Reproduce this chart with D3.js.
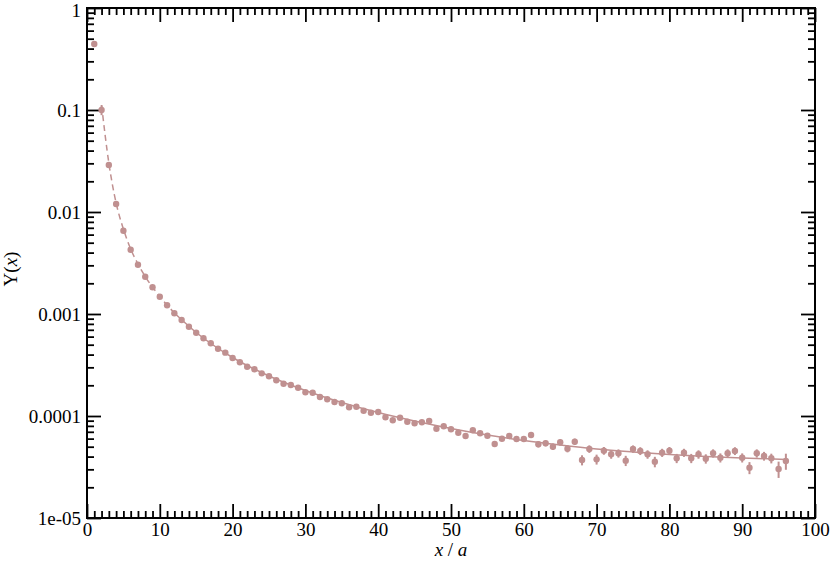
<!DOCTYPE html>
<html>
<head>
<meta charset="utf-8">
<script src="https://cdn.jsdelivr.net/npm/d3@7"></script>
<style>
  body { margin: 0; background: #fff; }
  svg { display: block; }
</style>
</head>
<body>
<div id="chart"></div>
<script>
// measured points Y(x) with errors
const xs = d3.range(1, 97);
const ys = [
  0.444, 0.1, 0.0289, 0.01198, 0.006557, 0.004271, 0.003044, 0.002321, 0.001827, 0.001477,
  0.001217, 0.001016, 0.000873, 0.000751, 0.000656, 0.000578, 0.000516, 0.000457, 0.000418, 0.000370,
  0.000336, 0.000304, 0.000287, 0.000262, 0.0002457, 0.000224, 0.000207, 0.000201, 0.0001894, 0.0001708,
  0.0001693, 0.0001536, 0.0001458, 0.0001372, 0.0001332, 0.0001217, 0.0001234, 0.0001127, 0.0001077, 0.0001094,
  0.0000971, 0.0000907, 0.0000962, 0.0000879, 0.0000848, 0.0000868, 0.0000893, 0.0000751, 0.0000793, 0.0000741,
  0.0000686, 0.0000637, 0.0000724, 0.0000677, 0.0000641, 0.0000531, 0.0000599, 0.0000637, 0.0000595, 0.0000595,
  0.0000651, 0.0000528, 0.0000540, 0.0000500, 0.0000552, 0.0000478, 0.0000560, 0.0000370, 0.0000475, 0.0000376,
  0.0000457, 0.0000421, 0.0000431, 0.0000365, 0.0000475, 0.0000454, 0.0000421, 0.0000356, 0.0000437, 0.0000457,
  0.0000385, 0.0000437, 0.0000385, 0.0000421, 0.0000381, 0.0000431, 0.0000390, 0.0000431, 0.0000454, 0.0000390,
  0.0000311, 0.0000431, 0.0000405, 0.0000385, 0.0000302, 0.0000362
];
const errs = [
  0.004, 0.011, 0.0004, 0.00012, 0.00006, 0.00004, 0.00003, 0.00002, 0.000015, 0.000012,
  0.00001, 0.000008, 0.000007, 0.000006, 0.000005, 0.000004, 0.000004, 0.0000035, 0.000003, 0.000003,
  0.000003, 0.000003, 0.000003, 0.000003, 0.000003, 0.000003, 0.000003, 0.000003, 0.000003, 0.000003,
  0.000003, 0.000003, 0.000003, 0.000003, 0.000003, 0.000003, 0.000003, 0.000003, 0.000003, 0.000003,
  0.000003, 0.000003, 0.000003, 0.000003, 0.000003, 0.000003, 0.000003, 0.000003, 0.000003, 0.000003,
  0.000003, 0.000003, 0.000003, 0.000003, 0.000003, 0.0000032, 0.0000032, 0.0000034, 0.0000034, 0.0000034,
  0.0000036, 0.0000036, 0.0000036, 0.0000036, 0.0000038, 0.0000038, 0.000004, 0.0000042, 0.000004, 0.0000042,
  0.000004, 0.000004, 0.000004, 0.0000042, 0.000004, 0.000004, 0.000004, 0.0000042, 0.000004, 0.000004,
  0.000004, 0.000004, 0.000004, 0.000004, 0.000004, 0.000004, 0.000004, 0.000004, 0.000004, 0.000004,
  0.0000042, 0.000004, 0.000004, 0.0000042, 0.0000055, 0.0000065
];

// fit curve
const fitX = [2, 3, 4, 5, 6, 7, 8, 10, 12, 15, 20, 25, 30, 35, 40, 45, 50, 55, 60, 65, 70, 75, 80, 85, 90, 96];
const fitY = [0.1119, 0.03023, 0.01225, 0.00681, 0.004338, 0.003093, 0.002331, 0.001484, 0.001023, 0.000659,
  0.0003746, 0.0002467, 0.0001778, 0.0001356, 0.0001082, 0.0000893, 0.0000754, 0.0000651, 0.0000575, 0.0000519,
  0.0000475, 0.0000444, 0.0000419, 0.0000401, 0.0000388, 0.0000375];
const dashedUntil = 12;

const xTicks = [0, 10, 20, 30, 40, 50, 60, 70, 80, 90, 100];
const yTicks = [1, 0.1, 0.01, 0.001, 0.0001, 0.00001];
const yTickLabels = ['1', '0.1', '0.01', '0.001', '0.0001', '1e-05'];

const width = 830, height = 562;
const m = { left: 87, right: 815, top: 8, bottom: 518 };
const color = '#c09090';
const serif = '"Liberation Serif", "Times New Roman", Times, serif';

const svg = d3.select('#chart').append('svg')
  .attr('width', width)
  .attr('height', height);

const x = d3.scaleLinear().domain([0, 100]).range([m.left, m.right]);
const y = d3.scaleLog().domain([1e-5, 1]).range([m.bottom, m.top]);

const xMinor = d3.range(0, 101).filter(v => v % 10 !== 0);
const yMinor = [];
yTicks.slice(0, 5).forEach(d => {
  for (let k = 2; k <= 9; k++) yMinor.push(d * k / 10);
});

function styleAxis(g) {
  g.select('.domain').remove();
  g.selectAll('line').attr('stroke', '#000').attr('stroke-width', 1.8);
  g.selectAll('text')
    .style('font-family', serif)
    .style('font-size', '19px')
    .attr('fill', '#000');
}

// minor ticks on all four sides
svg.append('g').attr('transform', `translate(0,${m.bottom})`)
  .call(d3.axisBottom(x).tickValues(xMinor).tickSize(-7).tickFormat(''))
  .call(styleAxis);
svg.append('g').attr('transform', `translate(0,${m.top})`)
  .call(d3.axisTop(x).tickValues(xMinor).tickSize(-7).tickFormat(''))
  .call(styleAxis);
svg.append('g').attr('transform', `translate(${m.left},0)`)
  .call(d3.axisLeft(y).tickValues(yMinor).tickSize(-7).tickFormat(''))
  .call(styleAxis);
svg.append('g').attr('transform', `translate(${m.right},0)`)
  .call(d3.axisRight(y).tickValues(yMinor).tickSize(-7).tickFormat(''))
  .call(styleAxis);

// major ticks with labels
svg.append('g').attr('transform', `translate(0,${m.bottom})`)
  .call(d3.axisBottom(x).tickValues(xTicks).tickSize(-14).tickPadding(5).tickFormat(d3.format('d')))
  .call(styleAxis);
svg.append('g').attr('transform', `translate(0,${m.top})`)
  .call(d3.axisTop(x).tickValues(xTicks).tickSize(-14).tickFormat(''))
  .call(styleAxis);
const yAxisG = svg.append('g').attr('transform', `translate(${m.left},0)`)
  .call(d3.axisLeft(y).tickValues(yTicks).tickSize(-14).tickPadding(6)
    .tickFormat((d, i) => yTickLabels[i]))
  .call(styleAxis);
// keep the top label inside the page
yAxisG.selectAll('.tick text').filter(d => d === 1).attr('dy', '0.45em');
svg.append('g').attr('transform', `translate(${m.right},0)`)
  .call(d3.axisRight(y).tickValues(yTicks).tickSize(-14).tickFormat(''))
  .call(styleAxis);

svg.append('rect')
  .attr('x', m.left).attr('y', m.top)
  .attr('width', m.right - m.left).attr('height', m.bottom - m.top)
  .attr('fill', 'none').attr('stroke', '#000').attr('stroke-width', 2);

// fit
const fit = fitX.map((v, i) => ({ x: v, y: fitY[i] }));
const line = d3.line().x(d => x(d.x)).y(d => y(d.y)).curve(d3.curveMonotoneX);
svg.append('path')
  .datum(fit.filter(d => d.x <= dashedUntil))
  .attr('d', line)
  .attr('fill', 'none').attr('stroke', color).attr('stroke-width', 1.5)
  .attr('stroke-dasharray', '6,4');
svg.append('path')
  .datum(fit.filter(d => d.x >= dashedUntil))
  .attr('d', line)
  .attr('fill', 'none').attr('stroke', color).attr('stroke-width', 1.5);

// points with error bars
const pts = xs.map((v, i) => ({ x: v, y: ys[i], e: errs[i] }));
svg.append('g').selectAll('line')
  .data(pts)
  .enter()
  .append('line')
  .attr('x1', d => x(d.x)).attr('x2', d => x(d.x))
  .attr('y1', d => y(d.y + d.e)).attr('y2', d => y(d.y - d.e))
  .attr('stroke', color).attr('stroke-width', 2);
svg.append('g').selectAll('circle')
  .data(pts)
  .enter()
  .append('circle')
  .attr('cx', d => x(d.x)).attr('cy', d => y(d.y))
  .attr('r', 3.2)
  .attr('fill', color);

// axis titles
const xt = svg.append('text')
  .attr('x', (m.left + m.right) / 2).attr('y', 556)
  .attr('text-anchor', 'middle')
  .style('font-family', serif).style('font-size', '19px');
xt.append('tspan').attr('font-style', 'italic').text('x');
xt.append('tspan').text(' / ');
xt.append('tspan').attr('font-style', 'italic').text('a');

const yt = svg.append('text')
  .attr('transform', `translate(17,${(m.top + m.bottom) / 2 + 6}) rotate(-90)`)
  .attr('text-anchor', 'middle')
  .style('font-family', serif).style('font-size', '19px');
yt.append('tspan').text('Y(');
yt.append('tspan').attr('font-style', 'italic').text('x');
yt.append('tspan').text(')');
</script>
</body>
</html>
